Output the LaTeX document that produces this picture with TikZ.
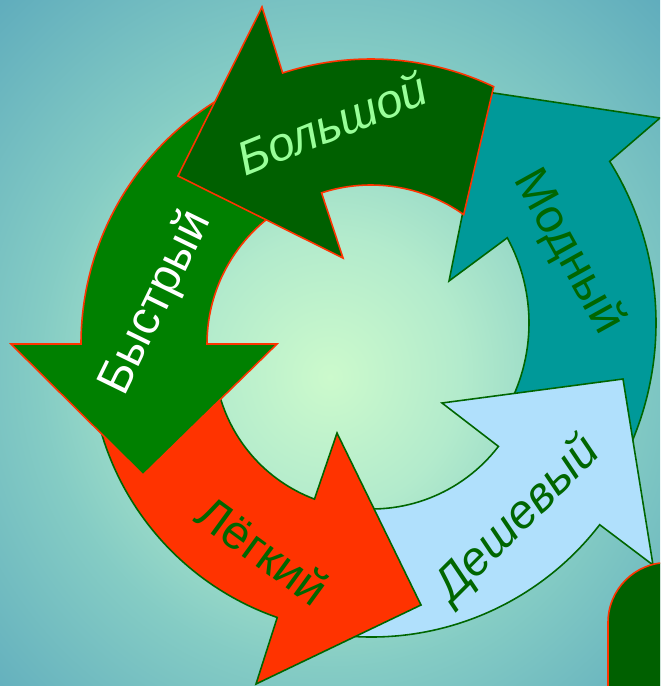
\documentclass[tikz,border=0pt]{standalone}
\usepackage{fontspec}
\setmainfont{Liberation Sans}
\usetikzlibrary{calc}

\definecolor{redline}{RGB}{255,51,0}
\definecolor{darkline}{RGB}{0,102,0}
\definecolor{fastgreen}{RGB}{0,128,0}
\definecolor{biggreen}{RGB}{0,96,0}
\definecolor{modteal}{RGB}{0,153,153}
\definecolor{cheapblue}{RGB}{176,224,252}
\definecolor{lightred}{RGB}{255,51,0}
\definecolor{paletext}{RGB}{153,255,153}

\pgfdeclareradialshading{glow}{\pgfpoint{0bp}{-2.5bp}}{rgb(0bp)=(0.80,0.98,0.80); rgb(10bp)=(0.70,0.92,0.80); rgb(22bp)=(0.52,0.80,0.77); rgb(36bp)=(0.38,0.68,0.74); rgb(50bp)=(0.30,0.60,0.72); rgb(72bp)=(0.26,0.56,0.71)}

\begin{document}
\begin{tikzpicture}[x=0.02cm, y=-0.02cm,
	part/.style={line width=0.9pt, line join=miter},
	word/.style={font=\fontsize{27}{31}\selectfont, inner sep=0pt}]

	% 背景
	\useasboundingbox (0,0) rectangle (660,686);
	\clip (0,0) rectangle (660,686);
	\shade[shading=glow] (0,0) rectangle (660,686);

	\coordinate (cmod) at (351,323);
	\coordinate (ccheap) at (371.5,349);
	\coordinate (clight) at (369,354);
	\coordinate (cfast) at (367,344);
	\coordinate (cbig) at (371,345);

	% 矢印
	\filldraw[part, fill=modteal, draw=darkline] ($(cmod)+(30:305)$) arc[start angle=30, end angle=-32, radius=305]
		-- (660,118) -- (487,92) -- (449,281)
		-- ($(cmod)+(-28.6:178)$) arc[start angle=-28.6, end angle=30, radius=178] -- cycle;
	\filldraw[part, fill=cheapblue, draw=darkline] ($(ccheap)+(100:288)$) arc[start angle=100, end angle=37.6, radius=288]
		-- (653,565) -- (623,379) -- (442,403)
		-- ($(ccheap)+(37.5:160)$) arc[start angle=37.5, end angle=100, radius=160] -- cycle;
	\filldraw[part, fill=lightred, draw=darkline] ($(clight)+(168:279)$) arc[start angle=168, end angle=109.2, radius=279]
		-- (256,684) -- (421,605) -- (337,433)
		-- ($(clight)+(110.6:155)$) arc[start angle=110.6, end angle=168, radius=155] -- cycle;
	\filldraw[part, fill=fastgreen, draw=redline] ($(cfast)+(245:286)$) arc[start angle=245, end angle=180, radius=286]
		-- (11,344) -- (143,475) -- (277,344)
		-- ($(cfast)+(180:160)$) arc[start angle=180, end angle=245, radius=160] -- cycle;
	\filldraw[part, fill=biggreen, draw=redline] ($(cbig)+(295.4:286)$) arc[start angle=295.4, end angle=252, radius=286]
		-- (262,7) -- (178,176) -- (343,258)
		-- ($(cbig)+(252:160)$) arc[start angle=252, end angle=305.4, radius=160] -- cycle;

	\filldraw[part, fill=biggreen, draw=redline] (608,720) -- (608,622.5)
		arc[start angle=180, end angle=270, radius=60] -- (720,562.5) -- (720,720) -- cycle;

	% 矢印の中に文字を入れる
	\node[word, text=white, rotate=64] (fast) at (156,303) {Быстрый};
	\node[word, text=paletext, rotate=22, font=\fontsize{27}{31}\selectfont\itshape] (big) at (332,123) {Большой};
	\node[word, text=darkline, rotate=-61] (fashion) at (568,252) {Модный};
	\node[word, text=darkline, rotate=45, font=\fontsize{27}{31}\selectfont\itshape] (cheap) at (518,520) {Дешевый};
	\node[word, text=darkline, rotate=-36] (light) at (263,550) {Лёгкий};

\end{tikzpicture}
\end{document}
